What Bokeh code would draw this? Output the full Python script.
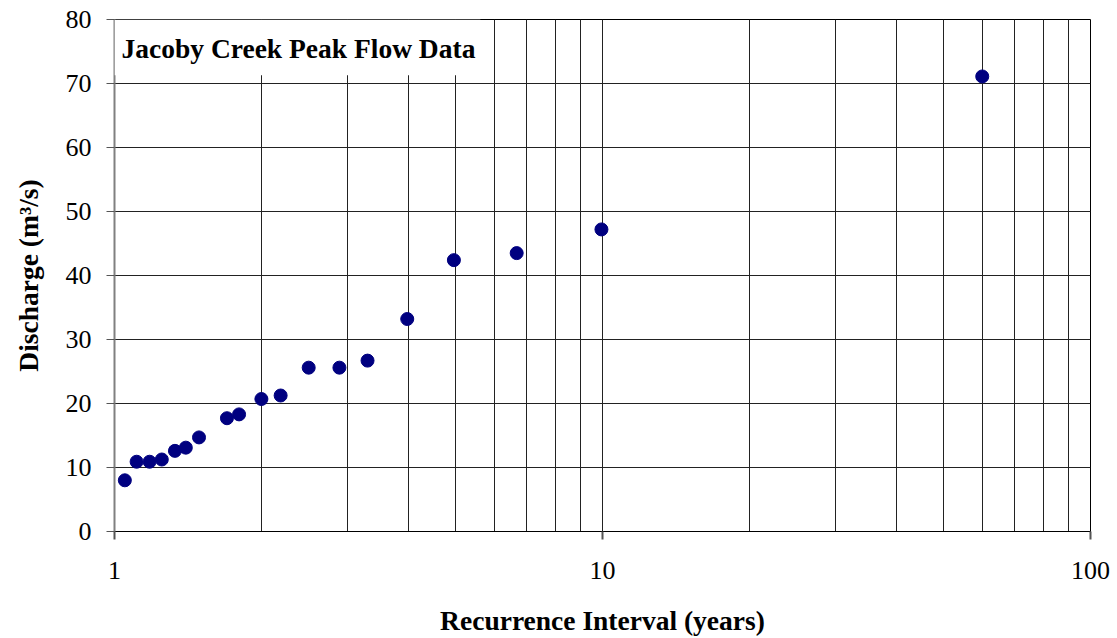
from bokeh.plotting import figure
from bokeh.models import (Range1d, FixedTicker, NumeralTickFormatter, BoxAnnotation, Label,
                          ColumnDataSource)
from bokeh.embed import file_html
from bokeh.resources import INLINE

# Peak flow series: recurrence interval (years) and discharge (m^3/s)
recurrence_years = [1.05, 1.11, 1.18, 1.25, 1.33, 1.40, 1.49, 1.70, 1.80, 2.00,
                    2.19, 2.50, 2.89, 3.30, 3.98, 4.96, 6.67, 9.95, 60.0]
discharge_cms = [8.0, 10.9, 10.9, 11.25, 12.6, 13.1, 14.7, 17.7, 18.3, 20.7,
                 21.25, 25.6, 25.6, 26.7, 33.2, 42.4, 43.5, 47.2, 71.1]

x_ticks = [1, 10, 100]
x_grid_values = [2, 3, 4, 5, 6, 7, 8, 9, 10, 20, 30, 40, 50, 60, 70, 80, 90]
y_ticks = [0, 10, 20, 30, 40, 50, 60, 70, 80]
y_grid_values = [10, 20, 30, 40, 50, 60, 70]

title_text = "Jacoby Creek Peak Flow Data"
x_label = "Recurrence Interval (years)"
y_label = "Discharge (m\u00b3/s)"

FONT = "Liberation Serif"

p = figure(
    frame_width=976, frame_height=512,
    min_border_left=114, min_border_right=27, min_border_top=19, min_border_bottom=107,
    x_axis_type="log",
    x_range=Range1d(1, 100), y_range=Range1d(0, 80),
    output_backend="svg", toolbar_location=None,
    background_fill_color="white", border_fill_color="white",
)

# frame outline
p.outline_line_color = "black"
p.outline_line_width = 1

# grid lines
p.xgrid.ticker = FixedTicker(ticks=x_grid_values)
p.ygrid.ticker = FixedTicker(ticks=y_grid_values)
for g in (p.xgrid, p.ygrid):
    g.grid_line_color = "#222222"
    g.grid_line_width = 1
    g.grid_line_alpha = 1

# x axis
xa = p.xaxis[0]
xa.ticker = FixedTicker(ticks=x_ticks, minor_ticks=[])
xa.formatter = NumeralTickFormatter(format="0")
xa.axis_line_color = "black"
xa.axis_line_width = 1
xa.major_tick_line_color = "#555555"
xa.major_tick_line_width = 2
xa.major_tick_out = 8
xa.major_tick_in = 0
xa.minor_tick_line_color = None
xa.major_label_standoff = 22
xa.major_label_text_font = FONT
xa.major_label_text_font_size = "26px"
xa.major_label_text_color = "black"
xa.axis_label = x_label
xa.axis_label_text_font = FONT
xa.axis_label_text_font_style = "bold"
xa.axis_label_text_font_size = "27.5px"
xa.axis_label_text_color = "black"
xa.axis_label_standoff = 23

# y axis
ya = p.yaxis[0]
ya.ticker = FixedTicker(ticks=y_ticks, minor_ticks=[])
ya.axis_line_color = "#808080"
ya.axis_line_width = 2
ya.major_tick_line_color = "#555555"
ya.major_tick_line_width = 1
ya.major_tick_out = 8
ya.major_tick_in = 0
ya.minor_tick_line_color = None
ya.major_label_standoff = 15
ya.major_label_text_font = FONT
ya.major_label_text_font_size = "26px"
ya.major_label_text_color = "black"
ya.axis_label = y_label
ya.axis_label_text_font = FONT
ya.axis_label_text_font_style = "bold"
ya.axis_label_text_font_size = "27.5px"
ya.axis_label_text_color = "black"
ya.axis_label_standoff = 19

# data points
src = ColumnDataSource(data=dict(x=recurrence_years, y=discharge_cms))
p.scatter("x", "y", source=src, size=13, marker="circle",
          fill_color="#000080", line_color="#000080")

# title block in the upper-left corner of the frame
p.add_layout(BoxAnnotation(left=1, right=5.62, bottom=71.3, top=80,
                           fill_color="white", fill_alpha=1, line_color=None))
p.add_layout(Label(x=1, y=80, x_offset=7, y_offset=-13, text=title_text,
                   text_baseline="top", text_align="left",
                   text_font=FONT, text_font_style="bold", text_font_size="27.5px",
                   text_color="black"))

open("out.html", "w").write(file_html(p, INLINE))
